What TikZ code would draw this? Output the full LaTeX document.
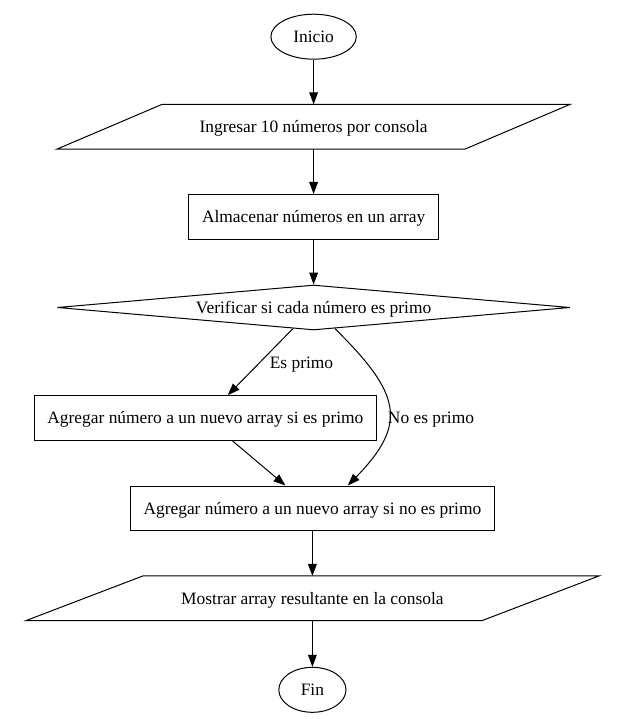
\documentclass[tikz,border=0pt]{standalone}
\usepackage{fontspec}
\setmainfont{Liberation Serif}
\usetikzlibrary{shapes.geometric,arrows.meta,calc}
\begin{document}
\begin{tikzpicture}[x=1pt,y=-1pt,
  every node/.style={font=\fontsize{17.4}{20}\selectfont, inner sep=0pt, text height=11.6pt, text depth=0pt},
  box/.style={draw, line width=1pt, rectangle, minimum height=44.6pt},
  io/.style={rectangle, outer sep=0pt, minimum height=44.7pt},
  ioline/.style={line width=1pt, line join=miter},
  term/.style={draw, ellipse, line width=1pt, minimum height=45pt},
  dec/.style={draw, diamond, aspect=11.4, minimum width=512.7pt, minimum height=45pt, line width=1pt},
  arr/.style={line width=1pt, -{Triangle[length=12pt,width=8.7pt]}},
  lbl/.style={}]
\useasboundingbox (0,0) rectangle (616,719);
\node[term, minimum width=85.4pt] (start) at (313.6,36.7) {Inicio};
\node[io, minimum width=513pt] (in) at (313.6,126.7) {Ingresar 10 números por consola};
\draw[ioline] (in.south west) -- ($(in.north west)+(105,0)$) -- (in.north east) -- ($(in.south east)+(-105,0)$) -- cycle;
\node[box, minimum width=249.7pt] (store) at (313.6,216.8) {Almacenar números en un array};
\node[dec] (chk) at (313.6,307.5) {Verificar si cada número es primo};
\node[box, minimum width=341.9pt] (yes) at (205.4,418) {Agregar número a un nuevo array si es primo};
\node[box, minimum width=363.2pt] (no) at (312.4,508.3) {Agregar número a un nuevo array si no es primo};
\node[io, minimum width=573.1pt] (out) at (312.4,598.3) {Mostrar array resultante en la consola};
\draw[ioline] (out.south west) -- ($(out.north west)+(117,0)$) -- (out.north east) -- ($(out.south east)+(-117,0)$) -- cycle;
\node[term, minimum width=67.2pt] (fin) at (312.4,689.8) {Fin};
\node[lbl] (lyes) at (301.5,362.7) {Es primo};
\node[lbl] (lno) at (431,417.7) {No es primo};
\draw[arr] (start) -- (in);
\draw[arr] (in) -- (store);
\draw[arr] (store) -- (chk);
\draw[arr] (chk) -- (yes);
\draw[arr] (chk) .. controls (400,393) and (409,423) .. ($(no.north)+(35.4,0)$);
\draw[arr] (yes) -- (no);
\draw[arr] (no) -- (out);
\draw[arr] (out) -- (fin);
\end{tikzpicture}
\end{document}
